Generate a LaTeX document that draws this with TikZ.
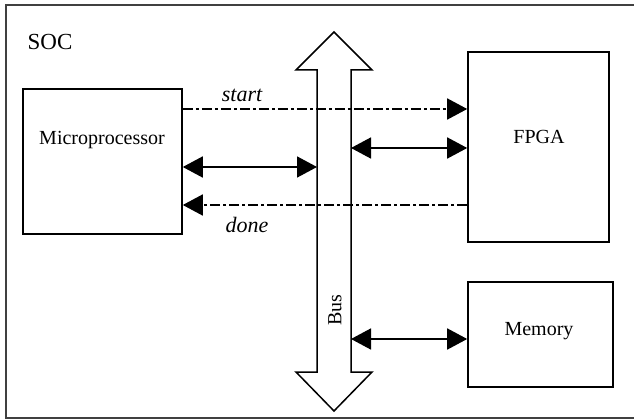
\documentclass[tikz,border=0pt]{standalone}
\usepackage{fontspec}
\setmainfont{Liberation Serif}
\usetikzlibrary{arrows.meta}
\begin{document}
\begin{tikzpicture}[x=1pt,y=-1pt,
  box/.style={draw,line width=1.6pt,inner sep=0pt},
  lbl/.style={font=\fontsize{20}{22}\selectfont,inner sep=0pt},
  ilbl/.style={font=\fontsize{22}{24}\selectfont\itshape,inner sep=0pt},
  tip/.style={{Triangle[length=20pt,width=21pt]}},
  conn/.style={line width=1.6pt},
  dd/.style={line width=1.6pt,dash pattern=on 10pt off 3pt on 3pt off 3pt}]
\useasboundingbox (0,0) rectangle (634,419);
% outer frame
\draw[line width=2pt,black!75] (636,4.7) -- (6,4.7) -- (6,418.3) -- (636,418.3);
\node[font=\fontsize{23}{25}\selectfont,inner sep=0pt] (soc) at (50,42) {SOC};
% boxes
\node[box,minimum width=159pt,minimum height=145pt] (mp) at (102.5,161.5) {};
\node[lbl] (mptext) at (102,140) {Microprocessor};
\node[box,minimum width=141pt,minimum height=190pt] (fpga) at (538.5,147) {};
\node[lbl] (fpgatext) at (539,137) {FPGA};
\node[box,minimum width=145pt,minimum height=105pt] (mem) at (540.5,334.5) {};
\node[lbl] (memtext) at (539,331) {Memory};
% bus
\coordinate (busL) at (317,220);
\coordinate (busR) at (351,220);
\draw[line width=1.5pt,fill=white,line join=miter]
  (334,32) -- (372,70) -- (351,70) -- (351,372) -- (372,372) -- (334,411)
  -- (296,372) -- (317,372) -- (317,70) -- (296,70) -- cycle;
\node[lbl,rotate=90] (bus) at (335,310) {Bus};
% y levels
\coordinate (yStart) at (0,109);
\coordinate (yF) at (0,148);
\coordinate (yM) at (0,167);
\coordinate (yDone) at (0,205);
\coordinate (yMem) at (0,339);
% connectors
\draw[dd,-{Triangle[length=20pt,width=21pt]}] (mp.east |- yStart) -- (fpga.west |- yStart);
\draw[conn,{Triangle[length=20pt,width=21pt]}-{Triangle[length=20pt,width=21pt]}] (busR |- yF) -- (fpga.west |- yF);
\draw[conn,{Triangle[length=20pt,width=21pt]}-{Triangle[length=20pt,width=21pt]}] (mp.east |- yM) -- (busL |- yM);
\draw[dd,-{Triangle[length=20pt,width=21pt]}] (fpga.west |- yDone) -- (mp.east |- yDone);
\draw[conn,{Triangle[length=20pt,width=21pt]}-{Triangle[length=20pt,width=21pt]}] (busR |- yMem) -- (mem.west |- yMem);
\node[ilbl] (start) at (242,95) {start};
\node[ilbl] (done) at (247,225) {done};
\end{tikzpicture}
\end{document}
